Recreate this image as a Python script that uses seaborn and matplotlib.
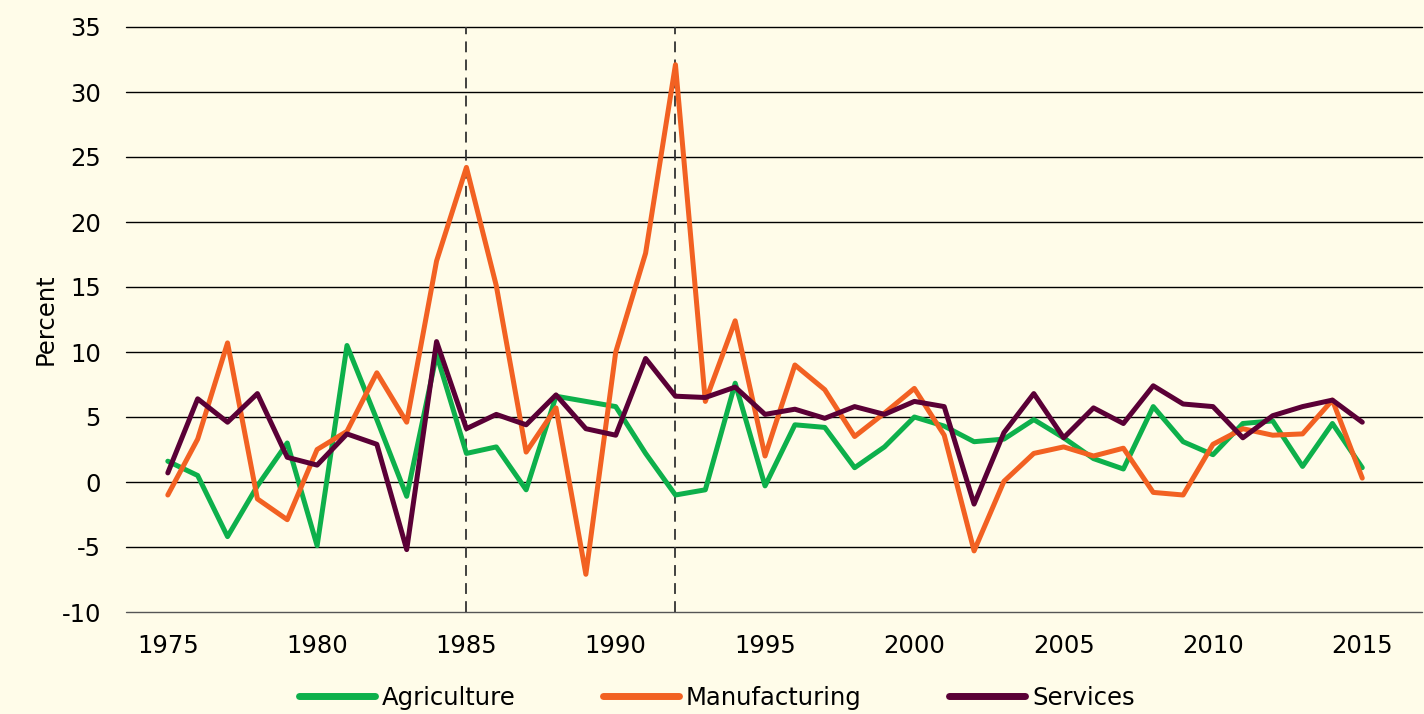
import numpy as np
import pandas as pd
import matplotlib
matplotlib.use("Agg")
import matplotlib.pyplot as plt
import seaborn as sns

# Jahreswerte (Prozent)
years = list(range(1975, 2016))
agriculture = [1.6, 0.5, -4.2, -0.3, 3.0, -4.9, 10.5, 4.8, -1.1, 9.8,
               2.2, 2.7, -0.6, 6.6, 6.2, 5.8, 2.2, -1.0, -0.6, 7.6,
               -0.3, 4.4, 4.2, 1.1, 2.7, 5.0, 4.3, 3.1, 3.3, 4.8,
               3.4, 1.8, 1.0, 5.8, 3.1, 2.1, 4.5, 4.7, 1.2, 4.5, 1.1]
manufacturing = [-1.0, 3.3, 10.7, -1.3, -2.9, 2.5, 3.9, 8.4, 4.6, 17.0,
                 24.2, 15.1, 2.3, 5.7, -7.1, 10.0, 17.6, 32.1, 6.2, 12.4,
                 2.0, 9.0, 7.1, 3.5, 5.3, 7.2, 3.6, -5.3, 0.05, 2.2,
                 2.7, 2.0, 2.6, -0.8, -1.0, 2.9, 4.1, 3.6, 3.7, 6.3, 0.3]
services = [0.7, 6.4, 4.6, 6.8, 1.9, 1.3, 3.7, 2.9, -5.2, 10.8,
            4.1, 5.2, 4.4, 6.7, 4.1, 3.6, 9.5, 6.6, 6.5, 7.3,
            5.2, 5.6, 4.9, 5.8, 5.2, 6.2, 5.8, -1.7, 3.8, 6.8,
            3.4, 5.7, 4.5, 7.4, 6.0, 5.8, 3.4, 5.1, 5.8, 6.3, 4.6]

sectors = ["Agriculture", "Manufacturing", "Services"]
colors = ["#0DB04B", "#F26122", "#5A0036"]
marker_years = [1985, 1992]
x_ticks = list(range(1975, 2016, 5))
y_ticks = list(range(-10, 36, 5))

BG = "#FFFCE9"

df = pd.DataFrame({
    "year": years * 3,
    "value": agriculture + manufacturing + services,
    "sector": np.repeat(sectors, len(years)),
})

sns.set_style("white")
plt.rcParams["font.family"] = ["DejaVu Sans"]
plt.rcParams["axes.unicode_minus"] = False
plt.rcParams["text.color"] = "black"
plt.rcParams["axes.labelcolor"] = "black"

fig = plt.figure(figsize=(14.24, 7.14), dpi=100, facecolor=BG)
ax = fig.add_axes([126 / 1424, 1 - 612 / 714, 1296 / 1424, 585 / 714])
ax.set_facecolor(BG)

for y in y_ticks:
    ax.axhline(y, color="black" if y > -10 else "#555555", lw=1.0, zorder=1, clip_on=False)
for yr in marker_years:
    ax.axvline(yr, color="#333333", lw=1.3, ls=(0, (6, 4)), zorder=1)

sns.lineplot(data=df, x="year", y="value", hue="sector", hue_order=sectors,
             palette=colors, lw=3.6, ax=ax, legend=False, zorder=3,
             solid_capstyle="round", solid_joinstyle="round")

ax.set_xlim(1973.6, 2017.0)
ax.set_ylim(-10, 35)
ax.set_xticks(x_ticks)
ax.set_yticks(y_ticks)
ax.tick_params(axis="both", length=0, labelsize=17.5, colors="black")
ax.tick_params(axis="x", pad=16)
ax.tick_params(axis="y", pad=18)
for s in ax.spines.values():
    s.set_visible(False)

ax.set_xlabel("")
ax.set_ylabel("Percent", fontsize=17.5, color="black")
ax.yaxis.set_label_coords(-0.053, 0.5)

handles = [plt.Line2D([], [], color=c, lw=5, solid_capstyle="round") for c in colors]
fig.legend(handles, sectors, loc="center", bbox_to_anchor=(0.5035, 1 - 698 / 714),
           ncol=3, frameon=False, fontsize=17.5, handlelength=3.1,
           handletextpad=0.3, columnspacing=3.6, labelcolor="black")

fig.savefig("out.png", dpi=100, facecolor=BG)
